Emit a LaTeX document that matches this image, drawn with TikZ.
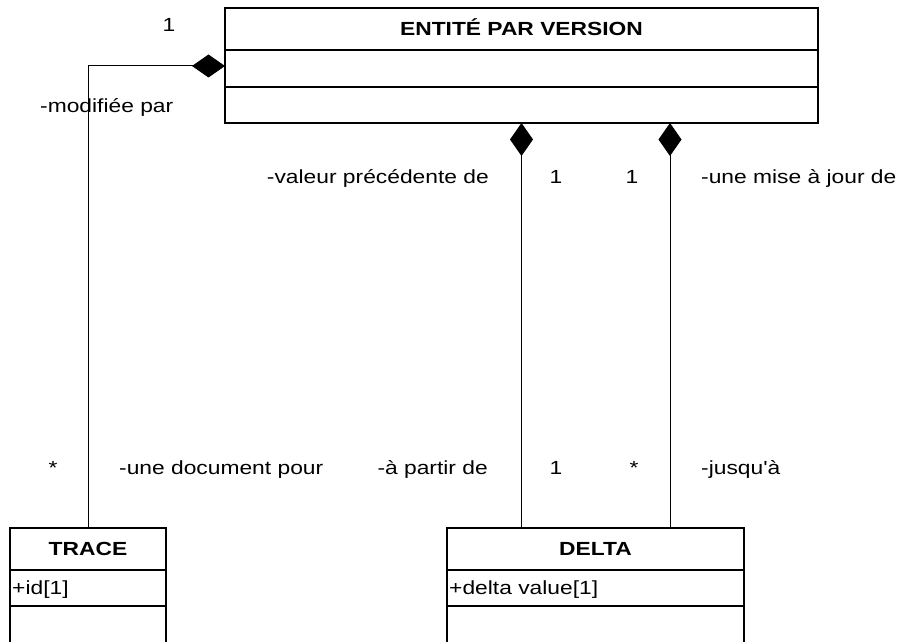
\documentclass[tikz,border=0pt]{standalone}
\usepackage{fontspec}
\setmainfont{Liberation Sans}[FakeStretch=1.2, Ligatures=TeXOff]
\usetikzlibrary{arrows.meta,positioning}

\begin{document}
\begin{tikzpicture}[
	x=1pt,
	y=-1pt,
	font=\fontsize{19}{22}\selectfont,
	box/.style={draw, line width=1.6pt, inner sep=0pt, outer sep=0pt, anchor=north west},
	head/.style={box, minimum height=42pt, text height=13.6pt, text depth=0pt, font=\fontsize{19}{22}\selectfont\bfseries},
	attr/.style={inner sep=0pt, anchor=west, text height=13.6pt, text depth=0pt},
	lbl/.style={inner sep=0pt},
	comp/.style={line width=1pt, {Diamond[length=33pt,width=23pt]}-}
	]
	\useasboundingbox (0,0) rectangle (903,642);
	\clip (0,0) rectangle (903,642);

	% --- classes ---
	\node[head, minimum width=593pt] (ent) at (225,8) {ENTITÉ PAR VERSION};
	\node[box, minimum width=593pt, minimum height=37pt, below=0pt of ent] (ent-attr) {};
	\node[box, minimum width=593pt, minimum height=36pt, below=0pt of ent-attr] (ent-ops) {};

	\node[head, minimum width=156pt] (trace) at (10,528) {TRACE};
	\node[box, minimum width=156pt, minimum height=36pt, below=0pt of trace] (trace-attr) {};
	\node[box, minimum width=156pt, minimum height=40pt, below=0pt of trace-attr] (trace-ops) {};
	\node[attr] (trace-id) at ([xshift=2pt]trace-attr.west) {+id[1]};

	\node[head, minimum width=297pt] (delta) at (447,528) {DELTA};
	\node[box, minimum width=297pt, minimum height=36pt, below=0pt of delta] (delta-attr) {};
	\node[box, minimum width=297pt, minimum height=40pt, below=0pt of delta-attr] (delta-ops) {};
	\node[attr] (delta-val) at ([xshift=2pt]delta-attr.west) {+delta value[1]};

	% --- compositions ---
	\draw[comp] ([yshift=2.5pt]ent-attr.west) -| (trace.north);
	\draw[comp] (ent-ops.south) -- (ent-ops.south |- delta.north);
	\coordinate (upd) at ([xshift=74.5pt]delta.north);
	\draw[comp] (upd |- ent-ops.south) -- (upd);

	% roles and multiplicities
	\node[lbl, anchor=base] (m-ent) at (169,32) {1};
	\node[lbl, anchor=base west] (r-mod) at (40,113) {-modifiée par};
	\node[lbl, anchor=base] (m-trace) at (53,474) {*};
	\node[lbl, anchor=base west] (r-doc) at (119,474) {-une document pour};

	\node[lbl, anchor=base east] (r-prev) at (489,183) {-valeur précédente de};
	\node[lbl, anchor=base] (m-prev) at (556,183) {1};
	\node[lbl, anchor=base] (m-upd) at (632,183) {1};
	\node[lbl, anchor=base west] (r-upd) at (701,183) {-une mise à jour de};

	\node[lbl, anchor=base east] (r-from) at (488,474) {-à partir de};
	\node[lbl, anchor=base] (m-from) at (556,474) {1};
	\node[lbl, anchor=base] (m-to) at (634,474) {*};
	\node[lbl, anchor=base west] (r-to) at (701,474) {-jusqu'à};
\end{tikzpicture}
\end{document}
